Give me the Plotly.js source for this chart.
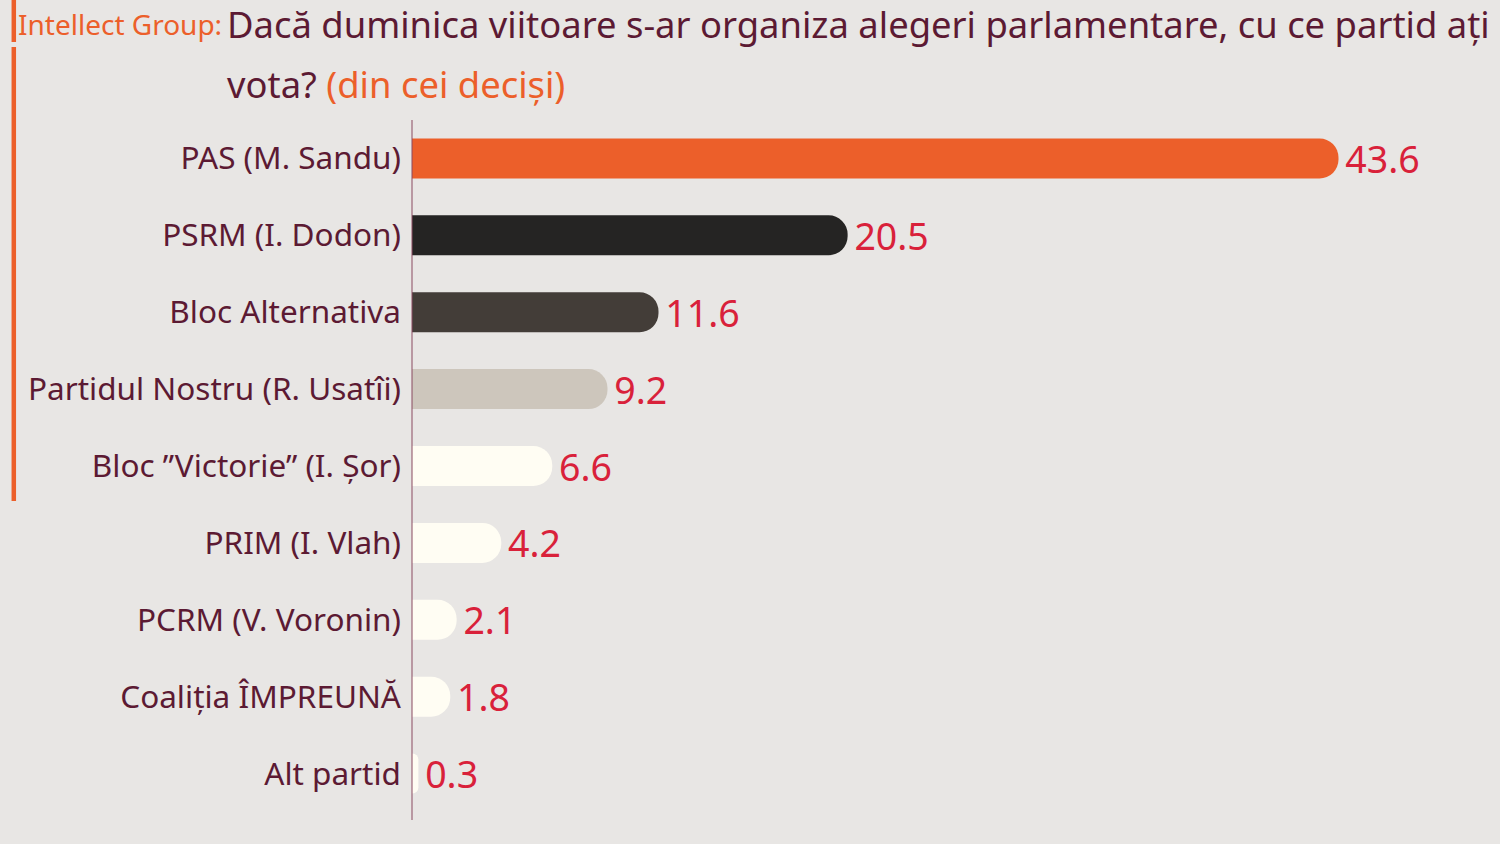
<!DOCTYPE html>
<html>
<head>
<meta charset="utf-8">
<script src="https://cdn.plot.ly/plotly-3.0.1.min.js"></script>
<style>html,body{margin:0;padding:0;background:#e8e6e4;}#chart{width:1500px;height:844px;}</style>
</head>
<body>
<div id="chart"></div>
<script>
const categories = ["PAS (M. Sandu)", "PSRM (I. Dodon)", "Bloc Alternativa", "Partidul Nostru (R. Usatîi)", "Bloc ”Victorie” (I. Șor)", "PRIM (I. Vlah)", "PCRM (V. Voronin)", "Coaliția ÎMPREUNĂ", "Alt partid"];
const values = [43.6, 20.5, 11.6, 9.2, 6.6, 4.2, 2.1, 1.8, 0.3];
const barColors = ["#ec5f2a", "#252423", "#433d38", "#cdc6bc", "#fffdf3", "#fffdf3", "#fffdf3", "#fffdf3", "#fffdf3"];
const titleSource = "Intellect Group:";
const titleLine1 = "Dacă duminica viitoare s-ar organiza alegeri parlamentare, cu ce partid ați";
const titleLine2 = "vota?";
const titleNote = "(din cei deciși)";

const FONT = "Noto Sans, sans-serif";
const M = {l: 412, r: 0, t: 120, b: 32};
const PW = 1500 - M.l - M.r, PH = 844 - M.t - M.b;
const px = x => (x - M.l) / PW;
const py = y => (844 - M.b - y) / PH;

const trace = {
  type: "bar",
  orientation: "h",
  y: categories,
  x: values,
  marker: {color: barColors, cornerradius: 20},
  width: 0.52,
  text: values.map(v => "\u200A" + v.toFixed(1)),
  textposition: "outside",
  constraintext: "none",
  cliponaxis: false,
  textfont: {family: FONT, size: 37.5, color: "#d9213a"},
  hoverinfo: "none"
};
const layout = {
  width: 1500, height: 844,
  paper_bgcolor: "#e8e6e4", plot_bgcolor: "#e8e6e4",
  margin: M,
  showlegend: false,
  xaxis: {range: [0, 51.2], showgrid: false, zeroline: false, showticklabels: false, showline: false, fixedrange: true},
  yaxis: {autorange: "reversed", showgrid: false, zeroline: false, showline: false, ticks: "",
          tickfont: {family: FONT, size: 31.5, color: "#5c1a33"}, ticklabelstandoff: 10},
  shapes: [
    {type: "line", xref: "paper", yref: "paper", x0: 0, x1: 0, y0: 1, y1: py(820), line: {color: "#8a4a60", width: 1}},
    {type: "line", xref: "paper", yref: "paper", x0: px(13.8), x1: px(13.8), y0: py(0), y1: py(42), line: {color: "#ec5f2a", width: 4.5}},
    {type: "line", xref: "paper", yref: "paper", x0: px(13.8), x1: px(13.8), y0: py(47), y1: py(501), line: {color: "#ec5f2a", width: 4.5}}
  ],
  annotations: [
    {xref: "paper", yref: "paper", x: px(224), y: py(3), xanchor: "right", yanchor: "top", showarrow: false,
     text: titleSource, font: {family: FONT, size: 28, color: "#ec5f2a"}},
    {xref: "paper", yref: "paper", x: px(225), y: py(-3), xanchor: "left", yanchor: "top", showarrow: false, align: "left",
     text: titleLine1, font: {family: FONT, size: 36.4, color: "#5c1a33"}},
    {xref: "paper", yref: "paper", x: px(225), y: py(57), xanchor: "left", yanchor: "top", showarrow: false, align: "left",
     text: titleLine2 + " <span style=\"color:#ec5f2a\">" + titleNote + "</span>", font: {family: FONT, size: 36.4, color: "#5c1a33"}}
  ]
};
Plotly.newPlot("chart", [trace], layout, {displayModeBar: false, staticPlot: true});
</script>
</body>
</html>
